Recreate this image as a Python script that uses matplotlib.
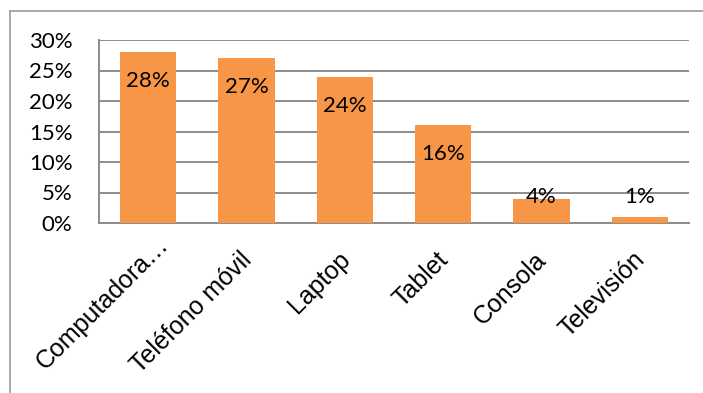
import matplotlib
matplotlib.use("Agg")
import matplotlib.pyplot as plt
from matplotlib.lines import Line2D
from matplotlib.transforms import ScaledTranslation

# Share of devices used
categories = ["Computadora…", "Teléfono móvil", "Laptop", "Tablet", "Consola", "Televisión"]
values = [28, 27, 24, 16, 4, 1]
yticks = [0, 5, 10, 15, 20, 25, 30]
ytick_labels = ["0%", "5%", "10%", "15%", "20%", "25%", "30%"]

BAR = "#F79646"
GRID = "#8C8C8C"
FRAME = "#9A9A9A"

W, H, DPI = 703, 393, 100
fig = plt.figure(figsize=(W / DPI, H / DPI), dpi=DPI)
fig.patch.set_facecolor("white")

# Outer chart frame (top and left edges)
fig.add_artist(Line2D([10 / W, 1.0], [1 - 10.5 / H, 1 - 10.5 / H],
                      transform=fig.transFigure, color=FRAME, lw=1.2))
fig.add_artist(Line2D([10 / W, 10 / W], [0.0, 1 - 10.5 / H],
                      transform=fig.transFigure, color=FRAME, lw=1.2))

ax = fig.add_axes([99 / W, 1 - 223 / H, (689 - 99) / W, (223 - 40) / H])
x = list(range(len(categories)))
ax.bar(x, values, width=0.57, color=BAR, zorder=3)

ax.set_xlim(-0.5, len(categories) - 0.5)
ax.set_ylim(0, 30)
ax.set_yticks(yticks)
ax.set_yticklabels(ytick_labels, fontfamily="Lato", fontsize=16)
ax.yaxis.grid(True, color=GRID, lw=1.4, zorder=1)
ax.set_axisbelow(True)

for side in ("top", "right"):
    ax.spines[side].set_visible(False)
for side in ("left", "bottom"):
    ax.spines[side].set_color(GRID)
    ax.spines[side].set_linewidth(1.4)
ax.tick_params(axis="y", length=0, pad=19)
ax.tick_params(axis="x", length=0, pad=17.6)

ax.set_xticks(x)
ax.set_xticklabels(categories, rotation=45, ha="right", va="top",
                   rotation_mode="anchor", fontfamily="Liberation Sans",
                   fontsize=18)
# Nudge the rotated category labels; the truncated first one sits higher
for i, lbl in enumerate(ax.get_xticklabels()):
    dx, dy = (-7, 0) if i else (8, 15)
    lbl.set_transform(lbl.get_transform() +
                      ScaledTranslation(dx / DPI, dy / DPI, fig.dpi_scale_trans))

# Value labels at the inside end of each bar; short bars keep a minimum height
drop = 4.75
floor = 4.25
for xi, v in zip(x, values):
    ax.text(xi, max(v - drop, floor), f"{v}%", ha="center", va="center",
            fontfamily="Lato", fontsize=16, color="black", zorder=4)

fig.savefig("out.png", dpi=DPI)
